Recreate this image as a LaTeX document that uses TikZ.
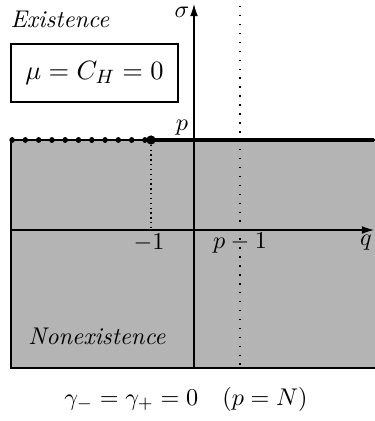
\documentclass[tikz,border=0pt]{standalone}
\usetikzlibrary{arrows.meta}
\definecolor{regiongray}{RGB}{180,180,180}
\begin{document}
\begin{tikzpicture}[x=0.414pt,y=-0.414pt,
  axis/.style={line width=0.45pt,-{Latex[length=5pt,width=3.2pt]}},
  region/.style={fill=regiongray,draw=black,line width=0.5pt},
  bound/.style={line width=1.3pt},
  dotbound/.style={line width=2.2pt,line cap=round,dash pattern=on 0.05pt off 5.45pt},
  sparsedot/.style={line width=0.6pt,dash pattern=on 0.6pt off 3.1pt},
  densedot/.style={line width=0.5pt,dash pattern=on 0.5pt off 1.5pt},
  lab/.style={inner sep=1pt}]
\useasboundingbox (0,0) rectangle (374,421);
% shaded region
\draw[region] (380,140) -- (11,140) -- (11,368) -- (380,368);
% axes
\coordinate (xs) at (11,230);
\coordinate (xe) at (374,230);
\coordinate (ys) at (194,368);
\coordinate (ye) at (194,4);
\draw[axis] (xs) -- (xe);
\draw[axis] (ys) -- (ye);
% vertical dotted lines
\coordinate (m1) at (151,140);
\coordinate (m1b) at (151,230);
\coordinate (pt) at (240,6);
\coordinate (pb) at (240,368);
\draw[densedot] (m1) -- (m1b);
\draw[sparsedot] (pt) -- (pb);
% boundary
\coordinate (bl) at (12,140);
\coordinate (br) at (374,140);
\draw[dotbound] (bl) -- (m1);
\draw[bound] (m1) -- (br);
\fill (m1) circle (4.6);
% labels
\node[lab] (sig) at (182,12) {$\sigma$};
\node[lab] (plab) at (182,128) {$p$};
\node[lab] (qlab) at (366,243) {$q$};
\node[lab] (mone) at (149,243) {$-1$};
\node[lab] (pmone) at (240,243) {$p-1$};
\node[lab] (ex) at (60,19) {\textit{Existence}};
\node[draw,line width=0.9pt,minimum width=167*0.414pt,minimum height=58*0.414pt,inner sep=0pt] (box) at (94.5,73) {\fontsize{11}{13}\selectfont$\mu=C_H=0$};
\node[lab] (nonex) at (97,336) {\textit{Nonexistence}};
\node[lab] (cap) at (186,399) {$\gamma_-=\gamma_+=0\quad(p=N)$};
\end{tikzpicture}
\end{document}
